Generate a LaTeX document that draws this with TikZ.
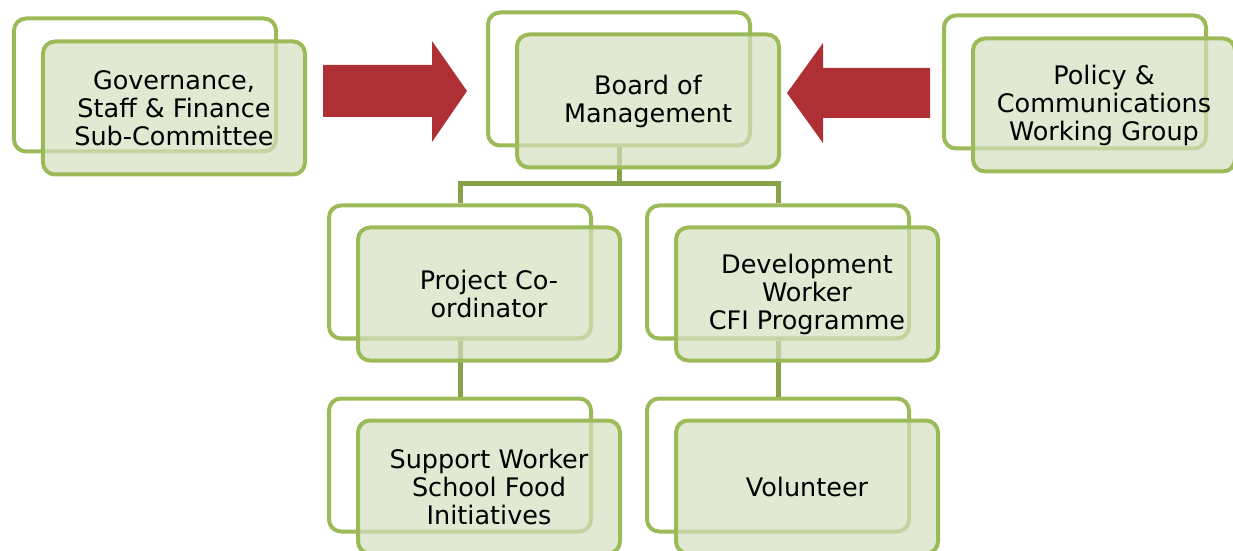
\documentclass[tikz,border=0pt]{standalone}
\usepackage{fontspec}
\setmainfont{DejaVu Sans}
\usepackage{tikz}
\definecolor{boxGreen}{HTML}{9BBB59}
\definecolor{linkGreen}{HTML}{86A34A}
\definecolor{paleGreen}{HTML}{D4DFBF}
\definecolor{arrowRed}{HTML}{AE3034}
\tikzstyle{backBox} = [draw=boxGreen, line width=4bp, rounded corners=12bp,
   minimum width=262bp, minimum height=133bp]
\tikzstyle{frontBox} = [backBox, fill=paleGreen, fill opacity=0.7,
   text opacity=1, align=center, font=\fontsize{25.5bp}{28bp}\selectfont]
\tikzstyle{link} = [draw=linkGreen, line width=5bp]

\begin{document}
\begin{tikzpicture}[x=1bp, y=-1bp]
  \useasboundingbox (0,0) rectangle (1233,551);
  % back frames
  \node[backBox] (gb) at (145,85) {};
  \node[backBox] (bb) at (619,79) {};
  \node[backBox] (pcb) at (1075,82) {};
  \node[backBox] (pb) at (460,272) {};
  \node[backBox,right of=pb,node distance=318bp] (db) {};
  \node[backBox,below of=pb,node distance=193bp] (sb) {};
  \node[backBox,below of=db,node distance=193bp] (vb) {};

  % tree lines
  \draw[link] (bb.south) -- ++(0,36) coordinate (fork); % split point
  \draw[link] (fork) -| (pb.north);
  \draw[link] (fork) -| (db.north);
  \draw[link] (pb.south) -- (sb.north);
  \draw[link] (db.south) -- (vb.north);

  % big red arrows into the board
  \fill[arrowRed] (323,65) -- (432,65) -- (432,41) -- (467,91)
     -- (432,142) -- (432,117) -- (323,117) -- cycle;
  \fill[arrowRed] (930,68) -- (823,68) -- (823,43) -- (787,93)
     -- (823,143) -- (823,118) -- (930,118) -- cycle;

  % front boxes with the text
  \node[frontBox] (g) at ([shift={(29,23)}]gb.center) {Governance,\\Staff \& Finance\\Sub-Committee};
  \node[frontBox] (b) at ([shift={(29,22)}]bb.center) {Board of\\Management};
  \node[frontBox] (pc) at ([shift={(29,23)}]pcb.center) {Policy \&\\Communications\\Working Group};
  \node[frontBox] (p) at ([shift={(29,22)}]pb.center) {Project Co-\\ordinator};
  \node[frontBox] (d) at ([shift={(29,22)}]db.center) {Development\\Worker\\CFI Programme};
  \node[frontBox] (s) at ([shift={(29,22)}]sb.center) {Support Worker\\School Food\\Initiatives};
  \node[frontBox] (v) at ([shift={(29,22)}]vb.center) {Volunteer};
\end{tikzpicture}
\end{document}
